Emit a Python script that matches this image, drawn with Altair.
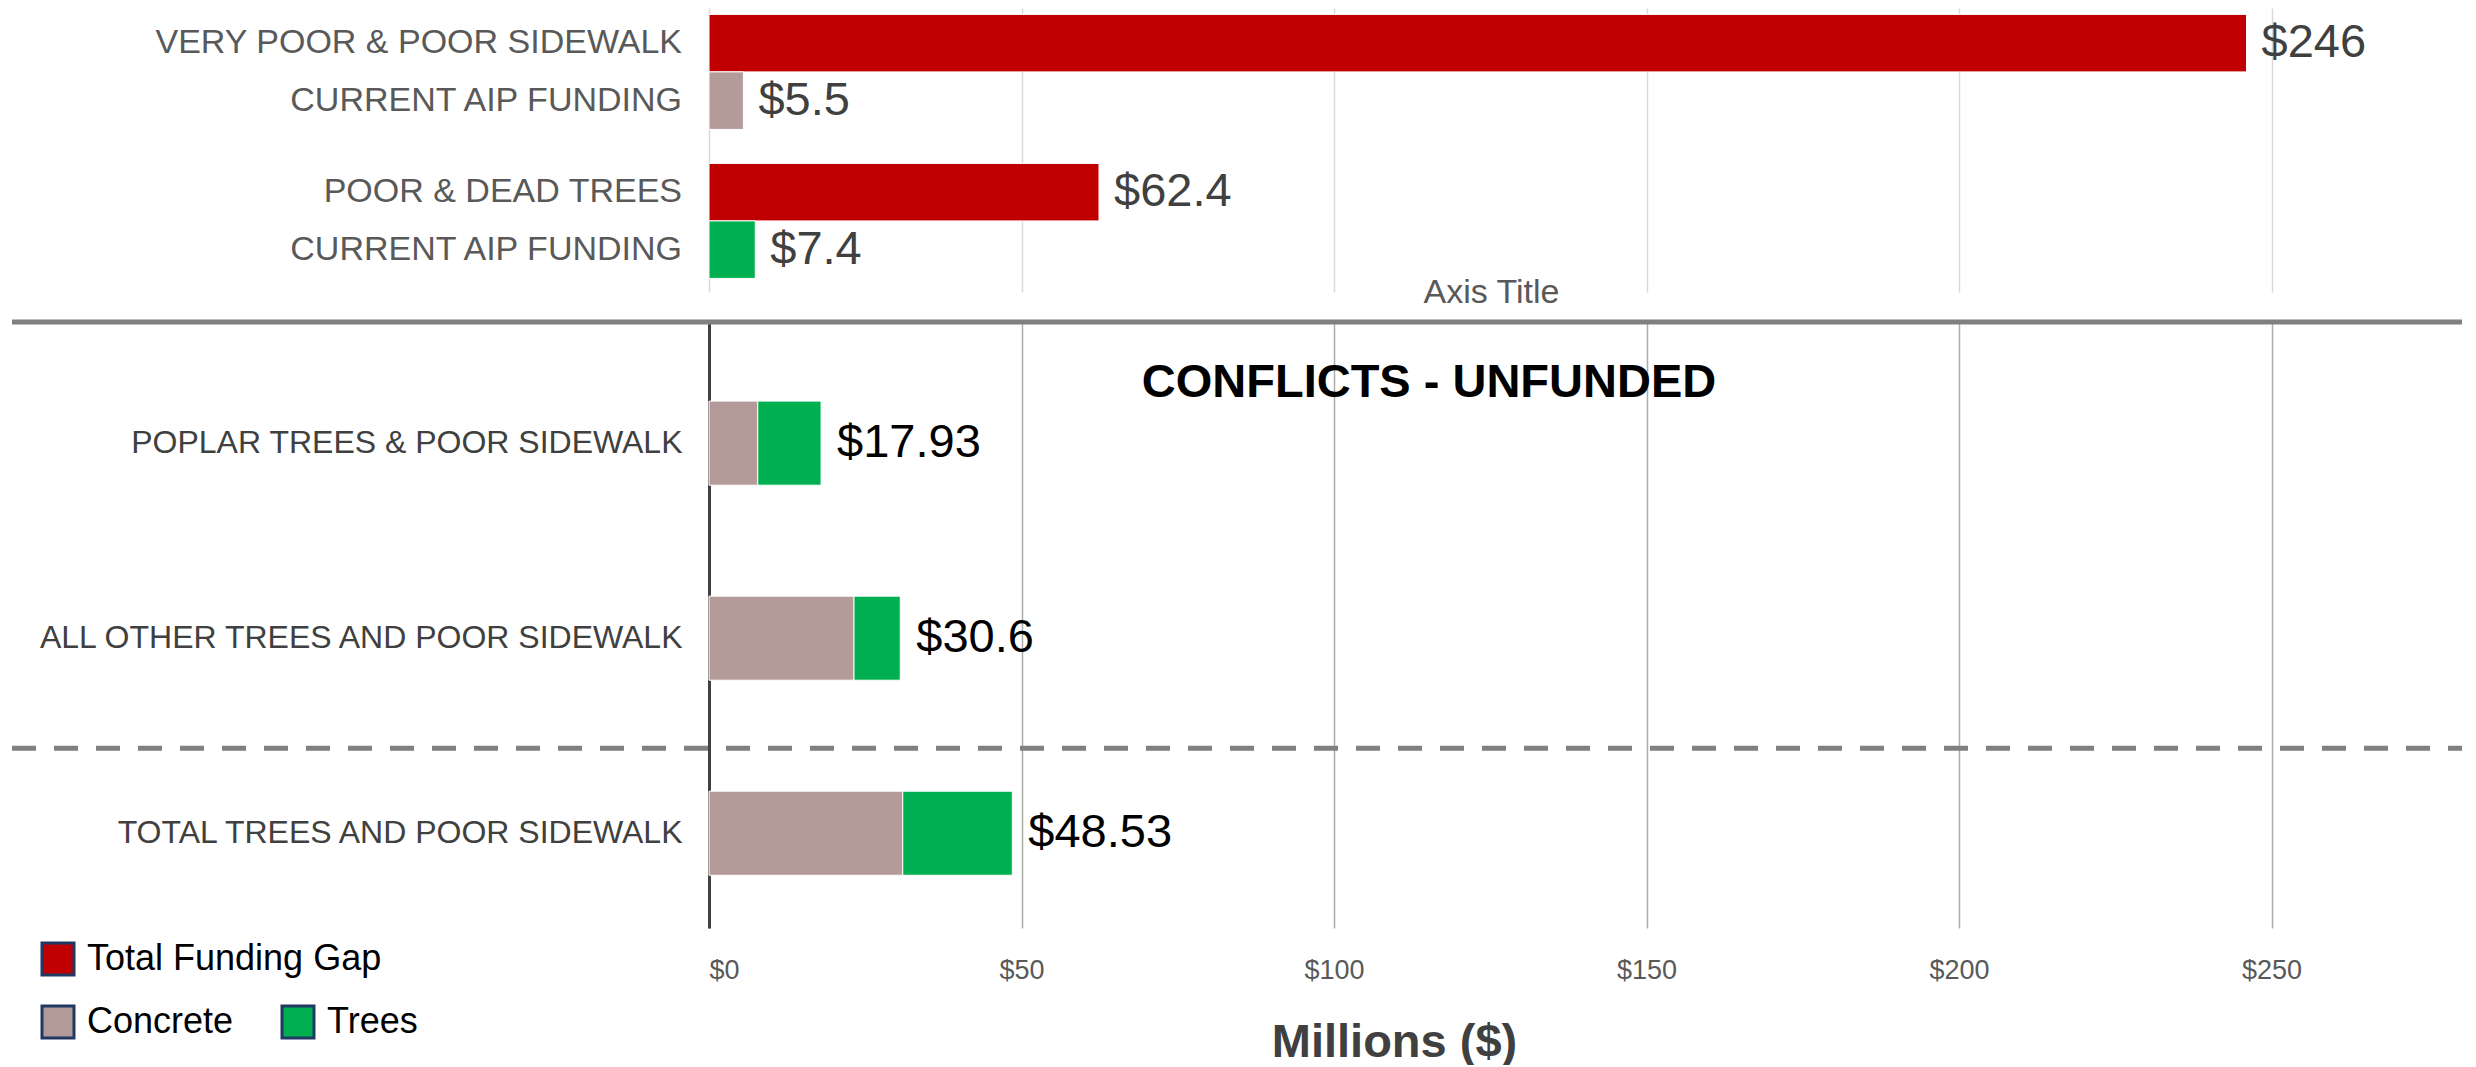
import altair as alt
import pandas as pd

# ---------------- data ----------------
# top panel (funding gap vs current AIP funding)
top_groups = ["SIDEWALK", "TREES"]
top_rows = ["gap", "aip"]
top_group_of = ["SIDEWALK", "SIDEWALK", "TREES", "TREES"]
top_row_of = ["gap", "aip", "gap", "aip"]
top_labels = ["VERY POOR & POOR SIDEWALK", "CURRENT AIP FUNDING",
              "POOR & DEAD TREES\u00a0", "CURRENT AIP FUNDING"]
top_kind = ["Total Funding Gap", "Concrete", "Total Funding Gap", "Trees"]
top_values = [246, 5.5, 62.4, 7.4]
top_value_text = ["$246", "$5.5", "$62.4", "$7.4"]

# bottom panel (conflicts - unfunded)
conflict_rows = ["POPLAR TREES & POOR SIDEWALK",
                 "ALL OTHER TREES AND POOR SIDEWALK",
                 "TOTAL TREES AND POOR SIDEWALK"]
concrete_values = [7.8, 23.2, 31.0]
trees_values = [10.13, 7.4, 17.53]
conflict_totals = [17.93, 30.6, 48.53]
conflict_text = ["$17.93", "$30.6", "$48.53"]

kinds_all = ["Total Funding Gap", "Concrete", "Trees"]
colors_all = ["#C00000", "#B49A99", "#00B050"]
x_ticks = [0, 50, 100, 150, 200, 250]
x_domain = [0, 280]
panel_title = ["CONFLICTS - UNFUNDED"]

# ---------------- tables ----------------
top_df = pd.DataFrame({
    "group": top_group_of, "row": top_row_of, "label": top_labels,
    "kind": top_kind, "value": top_values, "vtext": top_value_text,
})
bot_long = pd.DataFrame({
    "row": conflict_rows * 2,
    "kind": ["Concrete"] * 3 + ["Trees"] * 3,
    "value": concrete_values + trees_values,
    "ord": [0] * 3 + [1] * 3,
})
bot_tot = pd.DataFrame({"row": conflict_rows, "total": conflict_totals, "vtext": conflict_text})
title_df = pd.DataFrame({"t": panel_title})
one = pd.DataFrame({"k": [0]})

W = 1750
xscale = alt.Scale(domain=x_domain, nice=False, zero=True)

# ---------------- top chart ----------------
ytop = alt.Y("group:N", axis=None,
             scale=alt.Scale(domain=top_groups, paddingInner=0.228, paddingOuter=0.067, align=0.32))
yoff = alt.YOffset("row:N", scale=alt.Scale(domain=top_rows, paddingInner=0, paddingOuter=0))

top_x_axis = alt.Axis(values=x_ticks, labels=False, ticks=False, domain=False, grid=True,
                      gridColor="#D9D9D9", gridWidth=1.5, title="Axis Title",
                      titleFontSize=34, titleFontWeight="normal", titleColor="#595959",
                      titleX=782, titleY=17, titleAlign="center", titleBaseline="bottom")

top_bars = alt.Chart(top_df).mark_bar(stroke="white", strokeWidth=1).encode(
    x=alt.X("value:Q", scale=xscale, axis=top_x_axis),
    y=ytop, yOffset=yoff,
    color=alt.Color("kind:N", scale=alt.Scale(domain=kinds_all, range=colors_all), legend=None),
)
top_vals = alt.Chart(top_df).mark_text(align="left", baseline="middle", dx=15, fontSize=47,
                                       color="#404040").encode(
    x=alt.X("value:Q", scale=xscale), y=ytop, yOffset=yoff, text="vtext:N")
top_lbls = alt.Chart(top_df).mark_text(align="right", baseline="middle", fontSize=34,
                                       color="#595959").encode(
    x=alt.value(-27), y=ytop, yOffset=yoff, text="label:N")

top = alt.layer(top_bars, top_vals, top_lbls).properties(width=W, height=284)

# ---------------- bottom chart ----------------
ybot_scale = alt.Scale(domain=conflict_rows, paddingInner=0.569, paddingOuter=0.338, align=0.6)
ybot = alt.Y("row:N", title=None, scale=ybot_scale,
             axis=alt.Axis(labelFontSize=32, labelColor="#404040", labelPadding=27, ticks=False,
                           domain=True, domainColor="#404040", domainWidth=3,
                           minExtent=701, maxExtent=701, labelLimit=700, grid=False))

bot_x_axis = alt.Axis(values=x_ticks, format="$.0f", labelFontSize=27, labelColor="#595959",
                      labelPadding=29, ticks=False, domain=False, grid=True,
                      gridColor="#ABABAB", gridWidth=1.5, title="Millions ($)",
                      titleFontSize=47, titleFontWeight="bold", titleColor="#404040",
                      titleX=685, titleY=114, titleAlign="center", titleBaseline="middle")

bot_bars = alt.Chart(bot_long).mark_bar(stroke="white", strokeWidth=1).encode(
    x=alt.X("value:Q", scale=xscale, stack="zero", axis=bot_x_axis),
    y=ybot,
    color=alt.Color("kind:N", scale=alt.Scale(domain=["Concrete", "Trees"], range=colors_all[1:]),
                    legend=alt.Legend(orient="none", legendX=-669, legendY=682, title=None,
                                      direction="horizontal", symbolType="square", symbolSize=1024,
                                      labelFontSize=36, labelColor="black", labelOffset=11,
                                      labelLimit=500, columnPadding=42, padding=0,
                                      symbolStrokeWidth=3, symbolStrokeColor="#1F3864")),
    order=alt.Order("ord:Q"),
)
bot_vals = alt.Chart(bot_tot).mark_text(align="left", baseline="middle", dx=16, fontSize=47,
                                        color="black").encode(
    x=alt.X("total:Q", scale=xscale), y=alt.Y("row:N", scale=ybot_scale), text="vtext:N")

gap_legend = alt.Chart(top_df).transform_filter(alt.datum.kind == "Total Funding Gap").mark_rect().encode(
    x=alt.value(0), x2=alt.value(0), y=alt.value(0), y2=alt.value(0),
    color=alt.Color("kind:N", scale=alt.Scale(domain=["Total Funding Gap"], range=colors_all[:1]),
                    legend=alt.Legend(orient="none", legendX=-669, legendY=619, title=None,
                                      symbolType="square", symbolSize=1024, labelFontSize=36,
                                      labelColor="black", labelOffset=11, labelLimit=500, padding=0,
                                      symbolStrokeWidth=3, symbolStrokeColor="#1F3864")),
)

sep_rule = alt.Chart(one).mark_rule(color="#808080", strokeWidth=5).encode(
    x=alt.value(-697), x2=alt.value(1753), y=alt.value(0))
dash_rule = alt.Chart(one).mark_rule(color="#808080", strokeWidth=5, strokeDash=[24, 18],
                                     yOffset=-85).encode(
    x=alt.value(-697), x2=alt.value(1753),
    y=alt.YDatum(conflict_rows[2], type="nominal", scale=ybot_scale))
title_txt = alt.Chart(title_df).mark_text(fontSize=47, fontWeight="bold", color="black",
                                          align="center", baseline="middle").encode(
    x=alt.value(720), y=alt.value(61), text="t:N")

bottom = alt.layer(bot_bars, bot_vals, sep_rule, dash_rule, title_txt, gap_legend).resolve_scale(
    color="independent").properties(width=W, height=606)

chart = alt.vconcat(top, bottom, spacing=10).resolve_scale(color="independent").properties(
    padding=0).configure(font="Liberation Sans").configure_view(stroke=None)

chart.save("out.html", embed_options={"renderer": "svg", "actions": False})
